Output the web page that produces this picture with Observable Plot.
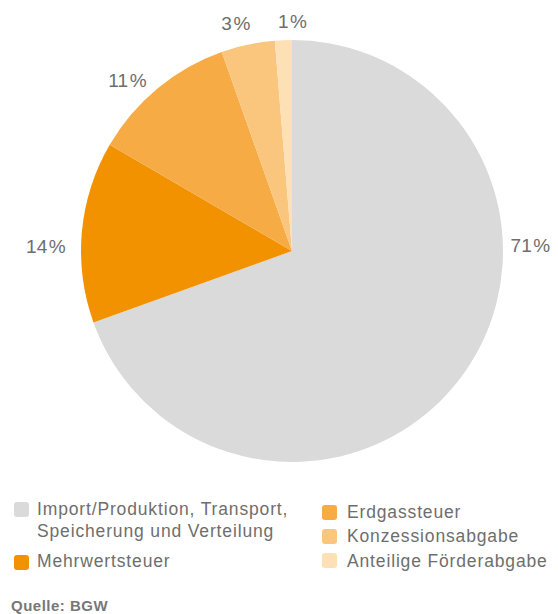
<!DOCTYPE html>
<html>
<head>
<meta charset="utf-8">
<script src="https://cdn.jsdelivr.net/npm/d3@7"></script>
<script src="https://cdn.jsdelivr.net/npm/@observablehq/plot@0.6"></script>
<style>
  html, body { margin: 0; padding: 0; background: #fff; }
  body { width: 558px; height: 614px; position: relative; overflow: hidden; font-family: "Liberation Sans", Arial, sans-serif; }
  #chart { position: absolute; left: 0; top: 0; }
  .sw { position: absolute; width: 15px; height: 15px; border-radius: 3px; }
  .lt { position: absolute; font-size: 17.5px; letter-spacing: 0.85px; line-height: 22px; color: #6e6e6e; white-space: nowrap; }
  #src { position: absolute; left: 11px; top: 598px; font-size: 15px; letter-spacing: 0.5px; line-height: 15px; font-weight: bold; color: #777; }
</style>
</head>
<body>
<div id="chart"></div>
<div id="legend"></div>
<div id="src">Quelle: BGW</div>
<script>
const categories = [
  "Import/Produktion, Transport, Speicherung und Verteilung",
  "Mehrwertsteuer",
  "Erdgassteuer",
  "Konzessionsabgabe",
  "Anteilige Förderabgabe"
];
const values = [69.5, 13.9, 11.2, 4.1, 1.3];
const labels = ["71\u200a%", "14\u200a%", "11\u200a%", "3\u200a%", "1\u200a%"];
const colors = ["#d9dad9", "#f39200", "#f6ab45", "#fac57d", "#fde0b4"];

const data = categories.map((c, i) => ({category: c, value: values[i], label: labels[i], color: colors[i]}));
const arcs = d3.pie().value(d => d.value).sort(null)(data);

function pieMark(arcs) {
  return (index, scales, values, dimensions, context) => {
    const cx = scales.x(0), cy = scales.y(0);
    const r = Math.abs(scales.x(1) - scales.x(0));
    const g = d3.create("svg:g").attr("transform", `translate(${cx},${cy})`);
    const arc = d3.arc().innerRadius(0).outerRadius(r);
    g.selectAll("path").data(arcs).join("path")
      .attr("d", arc)
      .attr("fill", d => d.data.color);
    return g.node();
  };
}

// label placement (layout only): angle in degrees from 12 o'clock, radius relative to pie radius
const labelAngleDeg = [88.6, -89, -44, -14, 0];
const labelRadius = [1.128, 1.169, 1.126, 1.11, 1.09];
const labelData = arcs.map((a, i) => {
  const ang = labelAngleDeg[i] * Math.PI / 180;
  return {x: labelRadius[i] * Math.sin(ang), y: labelRadius[i] * Math.cos(ang), text: a.data.label};
});

const plot = Plot.plot({
  width: 558,
  height: 480,
  margin: 0,
  x: {domain: [-292 / 211, (558 - 292) / 211], axis: null},
  y: {domain: [-(480 - 251) / 211, 251 / 211], axis: null},
  style: {background: "transparent", fontFamily: "Liberation Sans, Arial, sans-serif"},
  marks: [
    pieMark(arcs),
    Plot.text(labelData, {x: "x", y: "y", text: "text", fontSize: 19, fill: "#6e6e6e"})
  ]
});
document.getElementById("chart").appendChild(plot);

// Legend
const legendPos = [
  {sx: 14, sy: 502, tx: 37, ty: 498},
  {sx: 14, sy: 555, tx: 37, ty: 550},
  {sx: 322, sy: 505, tx: 347, ty: 501},
  {sx: 322, sy: 529, tx: 347, ty: 525},
  {sx: 322, sy: 553, tx: 347, ty: 550}
];
const legendText = [
  "Import/Produktion, Transport,<br>Speicherung und Verteilung",
  "Mehrwertsteuer",
  "Erdgassteuer",
  "Konzessionsabgabe",
  "Anteilige Förderabgabe"
];
const leg = document.getElementById("legend");
data.forEach((d, i) => {
  const p = legendPos[i];
  const s = document.createElement("div");
  s.className = "sw";
  s.style.left = p.sx + "px"; s.style.top = p.sy + "px"; s.style.background = d.color;
  leg.appendChild(s);
  const t = document.createElement("div");
  t.className = "lt";
  t.style.left = p.tx + "px"; t.style.top = p.ty + "px";
  t.innerHTML = legendText[i];
  leg.appendChild(t);
});
</script>
</body>
</html>
